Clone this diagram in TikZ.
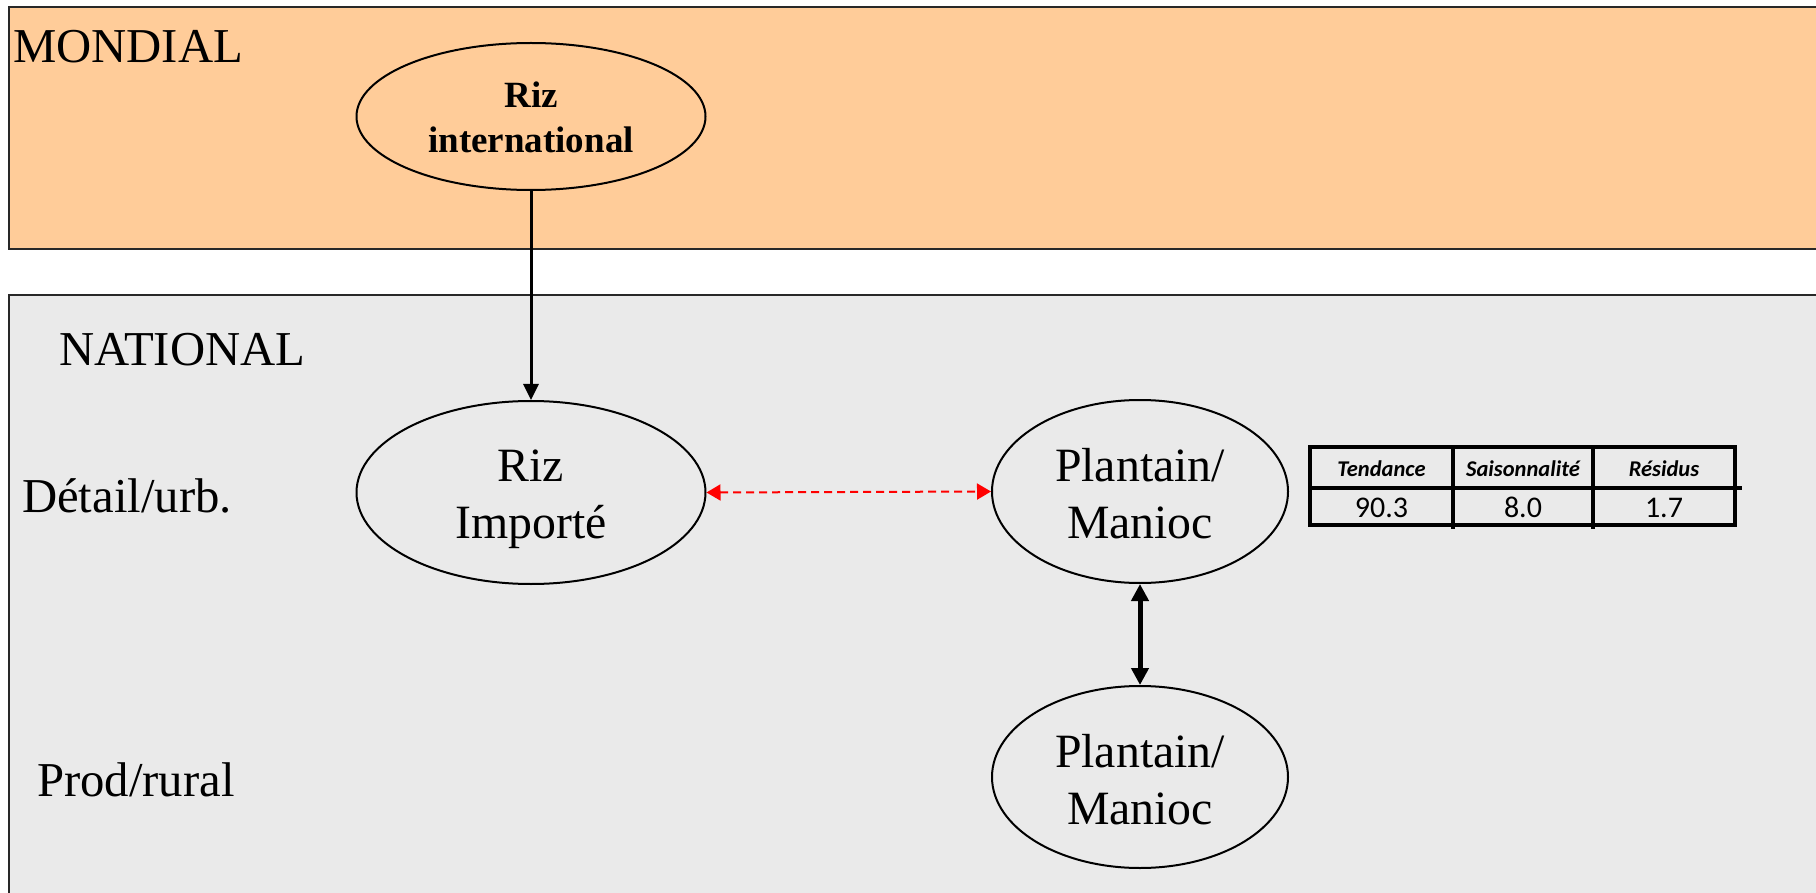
\documentclass[tikz,border=0pt]{standalone}
\usepackage{fontspec}
\setmainfont{Liberation Serif}
\newfontfamily\calfont{Carlito}
\usetikzlibrary{shapes.geometric,arrows.meta}
\definecolor{orangebg}{RGB}{255,204,153}
\definecolor{graybg}{RGB}{234,234,234}
\definecolor{frameclr}{RGB}{40,40,40}
\begin{document}
\begin{tikzpicture}[x=1pt,y=-1pt,
  ell/.style={draw=black,line width=2pt,ellipse,inner sep=0pt},
  lbl/.style={inner sep=0pt,anchor=base west,font=\fontsize{48.7}{57}\selectfont},
  txt/.style={inner sep=0pt,align=center,font=\fontsize{47.8}{57}\selectfont},
  btxt/.style={inner sep=0pt,align=center,font=\fontsize{37}{45}\selectfont\bfseries},
  frame/.style={draw=frameclr,line width=2pt},
  hcell/.style={inner sep=0pt,anchor=base,font=\calfont\fontsize{22.5}{27}\selectfont\bfseries\itshape},
  ncell/.style={inner sep=0pt,anchor=base,font=\calfont\fontsize{30}{36}\selectfont},
  tline/.style={line width=4pt,line cap=rect}]
\clip (0,0) rectangle (1816,893);
\fill[white] (0,0) rectangle (1816,893);
% bands
\draw[frame,fill=orangebg] (9,7) rectangle (1840,249);
\draw[frame,fill=graybg] (9,295) rectangle (1840,930);
% labels
\node[lbl] (mondial) at (13,63) {MONDIAL};
\node[lbl] (national) at (59,366) {NATIONAL};
\node[lbl] (detail) at (22,512) {Détail/urb.};
\node[lbl] (prod) at (37,796) {Prod/rural};
% ellipses
\node[ell,minimum width=349pt,minimum height=147pt] (rint) at (531,116.5) {};
\node[btxt] (rintt) at (531,117) {Riz\\international};
\node[ell,minimum width=349pt,minimum height=183pt] (rimp) at (531,492.5) {};
\node[txt] (rimpt) at (531,499.5) {Riz\\Importé};
\node[ell,minimum width=296pt,minimum height=183pt] (pm1) at (1140,491.5) {};
\node[txt] (pm1t) at (1140,493.5) {Plantain/\\Manioc};
\node[ell,minimum width=296pt,minimum height=182pt] (pm2) at (1140,777) {};
\node[txt] (pm2t) at (1140,779.5) {Plantain/\\Manioc};
% connectors
\draw[line width=3pt,-{Triangle[length=16pt,width=15pt]}] (rint.south) -- (rimp.north);
\draw[red,line width=2pt,dash pattern=on 8pt off 5pt,
  {Triangle[length=14pt,width=16pt]}-{Triangle[length=14pt,width=16pt]}] (rimp.east) -- (pm1.west);
\draw[line width=5pt,{Triangle[length=17pt,width=17pt]}-{Triangle[length=17pt,width=17pt]}] (pm1.south) -- (pm2.north);
% table
\draw[tline] (1310,447) rectangle (1735,525);
\draw[tline] (1310,488) -- (1740,488);
\draw[tline] (1453,447) -- (1453,527);
\draw[tline] (1593,447) -- (1593,527);
\node[hcell] (h1) at (1381.5,476) {Tendance};
\node[hcell] (h2) at (1523,476) {Saisonnalité};
\node[hcell] (h3) at (1664,476) {Résidus};
\node[ncell] (n1) at (1381.5,517) {90.3};
\node[ncell] (n2) at (1523,517) {8.0};
\node[ncell] (n3) at (1664,517) {1.7};
\end{tikzpicture}
\end{document}
